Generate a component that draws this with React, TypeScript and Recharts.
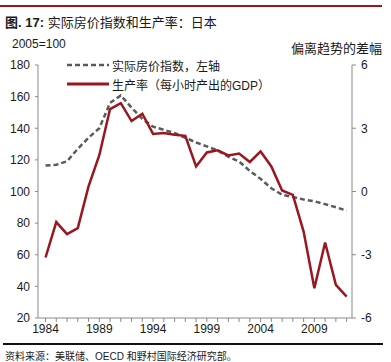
import { LineChart, Line, XAxis, YAxis } from 'recharts';

const years = [
  1984, 1985, 1986, 1987, 1988, 1989, 1990, 1991, 1992, 1993, 1994, 1995, 1996, 1997, 1998,
  1999, 2000, 2001, 2002, 2003, 2004, 2005, 2006, 2007, 2008, 2009, 2010, 2011, 2012,
];
// 实际房价指数 (2005=100), left axis
const housePrice = [
  116.4, 116.9, 119.1, 127, 134, 140, 156, 160.8, 153, 146, 141, 139, 137, 134, 131,
  128.5, 126, 122, 119, 113, 108, 102, 98, 96.5, 95, 93.8, 92, 90, 88,
];
// 生产率 deviation from trend, right axis
const productivity = [
  -3.13, -1.45, -2.02, -1.74, 0.24, 1.72, 3.91, 4.19, 3.34, 3.69, 2.73, 2.77, 2.69, 2.64, 1.19,
  1.85, 1.95, 1.71, 1.8, 1.4, 1.9, 1.19, 0.05, -0.16, -1.9, -4.59, -2.42, -4.43, -4.99,
];
const leftTicks = [20, 40, 60, 80, 100, 120, 140, 160, 180];
const rightTicks = [-6, -3, 0, 3, 6];
const labelYears = [1984, 1989, 1994, 1999, 2004, 2009];

const data = years.map((y, i) => ({ year: y, house: housePrice[i], prod: productivity[i] }));

const FONT = '"Liberation Sans", Arial, "Noto Sans CJK SC", sans-serif';
const RED = '#9a1620';
const GREY = '#5a5a5a';
const AXIS = '#8a8a8a';

export default function App() {
  return (
    <div
      style={{
        position: 'absolute',
        left: 0,
        top: 0,
        width: 391,
        height: 362,
        background: '#fff',
        fontFamily: FONT,
        color: '#1a1a1a',
        overflow: 'hidden',
      }}
    >
      <div style={{ position: 'absolute', left: 0, top: 5, width: 382, height: 2, background: RED }} />
      <div style={{ position: 'absolute', left: 5, top: 12, fontSize: 13, whiteSpace: 'nowrap' }}>
        <b>图. 17:</b> 实际房价指数和生产率：日本
      </div>
      <div style={{ position: 'absolute', left: 12, top: 37, fontSize: 12 }}>2005=100</div>
      <div style={{ position: 'absolute', right: 9, top: 38, fontSize: 13, whiteSpace: 'nowrap' }}>偏离趋势的差幅</div>

      <LineChart
        width={391}
        height={362}
        data={data}
        margin={{ top: 65, right: 9, left: 8, bottom: 14 }}
        style={{ position: 'absolute', left: 0, top: 0 }}
      >
        <XAxis
          dataKey="year"
          type="number"
          domain={[1983.3, 2012.5]}
          ticks={years}
          interval={0}
          allowDataOverflow
          tickFormatter={(v: number) => (labelYears.includes(v) ? String(v) : '')}
          tick={{ fontSize: 12, fill: '#1a1a1a', fontFamily: FONT }}
          tickSize={4}
          height={30}
          stroke={AXIS}
        />
        <YAxis
          yAxisId="left"
          domain={[20, 180]}
          ticks={leftTicks}
          interval={0}
          width={30}
          tickSize={3}
          tickMargin={5}
          tick={{ fontSize: 12, fill: '#1a1a1a', fontFamily: FONT }}
          stroke={AXIS}
        />
        <YAxis
          yAxisId="right"
          orientation="right"
          domain={[-6, 6]}
          ticks={rightTicks}
          interval={0}
          width={30}
          tickSize={4}
          tickMargin={5}
          tick={{ fontSize: 12, fill: '#1a1a1a', fontFamily: FONT }}
          stroke={AXIS}
        />
        <Line
          yAxisId="left"
          dataKey="house"
          stroke={GREY}
          strokeWidth={2.5}
          strokeDasharray="5 3"
          dot={false}
          isAnimationActive={false}
        />
        <Line
          yAxisId="right"
          dataKey="prod"
          stroke={RED}
          strokeWidth={2.5}
          dot={false}
          isAnimationActive={false}
        />
      </LineChart>

      <div style={{ position: 'absolute', left: 67, top: 56, fontSize: 12, whiteSpace: 'nowrap' }}>
        <svg width={42} height={18} style={{ position: 'absolute', left: 0, top: 0 }}>
          <line x1={0} y1={9} x2={42} y2={9} stroke={GREY} strokeWidth={2.5} strokeDasharray="5 3" />
        </svg>
        <span style={{ position: 'absolute', left: 45, top: 1 }}>实际房价指数，左轴</span>
      </div>
      <div style={{ position: 'absolute', left: 67, top: 75, fontSize: 12, whiteSpace: 'nowrap' }}>
        <svg width={42} height={18} style={{ position: 'absolute', left: 0, top: 0 }}>
          <line x1={0} y1={9} x2={42} y2={9} stroke={RED} strokeWidth={3} />
        </svg>
        <span style={{ position: 'absolute', left: 45, top: 1 }}>生产率（每小时产出的GDP）</span>
      </div>

      <div style={{ position: 'absolute', left: 3, top: 343, width: 380, height: 1.5, background: '#111' }} />
      <div style={{ position: 'absolute', left: 5, top: 348, fontSize: 10, whiteSpace: 'nowrap' }}>
        资料来源：美联储、OECD 和野村国际经济研究部。
      </div>
    </div>
  );
}
